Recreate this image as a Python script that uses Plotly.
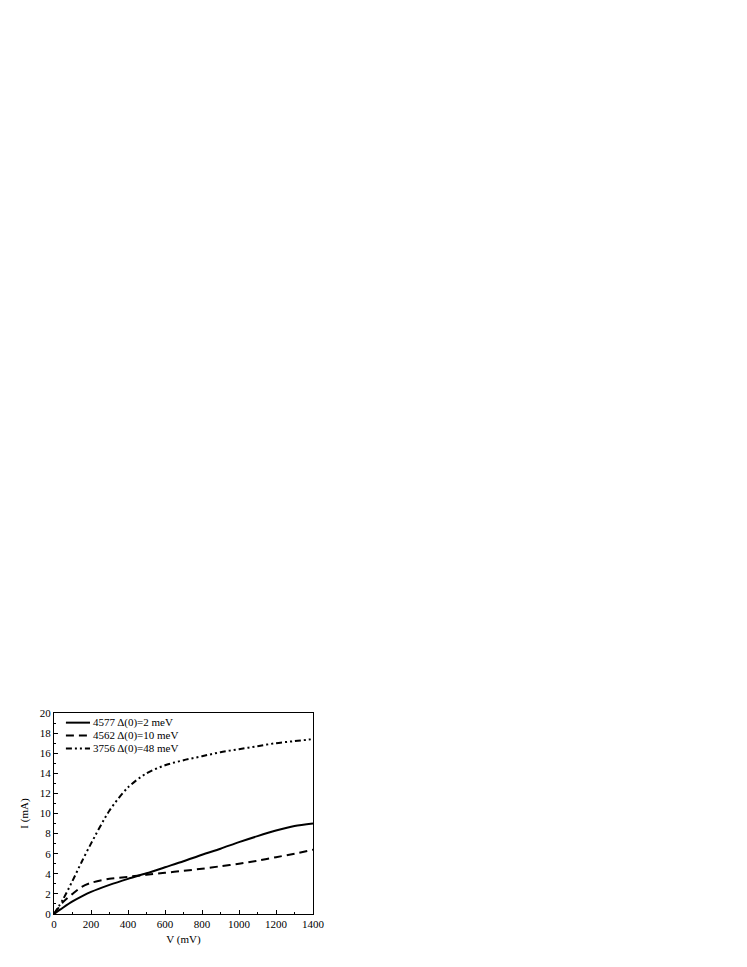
import plotly.graph_objects as go

v = [0, 50, 100, 150, 200, 300, 400, 500, 600, 700, 800, 900, 1000, 1100, 1200, 1300, 1400]
i_4577 = [0, 0.65, 1.25, 1.75, 2.2, 2.9, 3.5, 4.05, 4.65, 5.25, 5.9, 6.5, 7.15, 7.75, 8.3, 8.75, 9.0]
i_4562 = [0, 1.2, 2.0, 2.7, 3.1, 3.5, 3.7, 3.9, 4.1, 4.3, 4.5, 4.75, 5.0, 5.3, 5.65, 6.0, 6.4]
i_3756 = [0, 1.5, 3.3, 5.2, 7.0, 10.3, 12.6, 14.0, 14.8, 15.3, 15.7, 16.1, 16.4, 16.7, 17.0, 17.2, 17.4]

names = ["4577 Δ(0)=2 meV", "4562 Δ(0)=10 meV", "3756 Δ(0)=48 meV"]
dashes = ["solid", "8px,5px", "6px,3px,2px,3px,2px,3px"]

serif = "Liberation Serif, DejaVu Serif, serif"
font = dict(family=serif, size=11, color="black")

fig = go.Figure()
for y, name, dash in zip([i_4577, i_4562, i_3756], names, dashes):
    fig.add_trace(go.Scatter(x=v, y=y, mode="lines", name=name, showlegend=False,
                             line=dict(color="black", width=2, dash=dash,
                                       shape="spline", smoothing=0.8)))

# legend drawn by hand, tighter than plotly's own
legend_y = [0.952, 0.888, 0.824]
for ly, name, dash in zip(legend_y, names, dashes):
    fig.add_shape(type="line", xref="paper", yref="paper", x0=0.046, x1=0.139, y0=ly, y1=ly,
                  line=dict(color="black", width=2, dash=dash))
    fig.add_annotation(xref="paper", yref="paper", x=0.145, y=ly, text=name, showarrow=False,
                       xanchor="left", yanchor="middle", borderpad=0,
                       font=dict(family=serif, size=11, color="black"))

axis = dict(showline=True, linecolor="black", linewidth=1, mirror=True,
            ticks="inside", ticklen=4, tickcolor="black", showgrid=False, zeroline=False,
            tickfont=font)

fig.update_xaxes(range=[0, 1400], dtick=200, title=dict(text="V (mV)", font=font, standoff=6),
                 minor=dict(dtick=100, ticks="inside", ticklen=2, tickcolor="black"), **axis)
fig.update_yaxes(range=[0, 20], dtick=2, title=dict(text="I (mA)", font=font, standoff=8),
                 minor=dict(dtick=1, ticks="inside", ticklen=2, tickcolor="black"), **axis)

fig.update_layout(
    width=747, height=967,
    margin=dict(l=46, r=442, t=705, b=61),
    plot_bgcolor="white", paper_bgcolor="white",
    font=font,
    showlegend=False,
)

fig.write_html("out.html")
